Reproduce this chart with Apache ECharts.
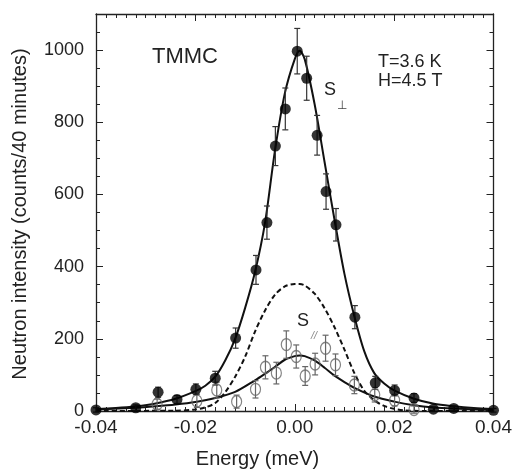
<!DOCTYPE html>
<html>
<head>
<meta charset="utf-8">
<script src="https://cdn.jsdelivr.net/npm/echarts@6/dist/echarts.min.js"></script>
<style>
  html, body { margin: 0; padding: 0; background: #fff; }
  #chart { width: 515px; height: 470px; }
</style>
</head>
<body>
<div id="chart"></div>
<script>
// S perp data (filled circles)
const perpX = [-0.04, -0.032, -0.0275, -0.0237, -0.0199, -0.016, -0.0119, -0.0078, -0.0056, -0.0039, -0.0019, 0.0005, 0.0024, 0.0045, 0.0063, 0.0083, 0.0121, 0.0162, 0.0201, 0.024, 0.0279, 0.032, 0.04];
const perpY = [3, 9, 52, 32, 60, 91, 202, 391, 522, 734, 837, 997, 922, 764, 608, 516, 260, 78, 57, 36, 5, 7, 2];
const perpErr = [6, 8, 14, 11, 15, 19, 28, 40, 46, 54, 58, 63, 61, 55, 49, 45, 32, 18, 15, 12, 6, 6, 5];

// S parallel data (open circles)
const parX = [-0.0277, -0.0197, -0.0157, -0.0117, -0.0079, -0.0059, -0.0037, -0.0017, 0.0003, 0.0021, 0.0041, 0.0062, 0.0082, 0.012, 0.0161, 0.0201, 0.024];
const parY = [19, 28, 58, 26, 60, 121, 105, 184, 151, 97, 130, 174, 128, 72, 45, 30, 4];
const parErr = [14, 18, 22, 18, 24, 32, 30, 38, 32, 26, 30, 36, 30, 24, 20, 16, 10];

// fitted curves
const perpFitX = [-0.04, -0.036, -0.032, -0.028, -0.024, -0.02, -0.018, -0.016, -0.014, -0.012, -0.01, -0.008, -0.006, -0.004, -0.002, 0, 0.001, 0.002, 0.004, 0.006, 0.008, 0.01, 0.012, 0.014, 0.016, 0.018, 0.02, 0.024, 0.028, 0.032, 0.036, 0.04];
const perpFitY = [5, 8, 13, 21, 34, 55, 70, 95, 140, 200, 285, 385, 520, 720, 880, 975, 998, 975, 850, 690, 530, 380, 262, 165, 105, 76, 57, 34, 20, 13, 8, 5];

const parFitX = [-0.04, -0.032, -0.028, -0.024, -0.02, -0.016, -0.012, -0.008, -0.006, -0.004, -0.002, 0, 0.001, 0.002, 0.004, 0.006, 0.008, 0.01, 0.012, 0.016, 0.02, 0.024, 0.028, 0.032, 0.04];
const parFitY = [4, 9, 13, 18, 25, 36, 53, 85, 103, 122, 142, 152, 154, 152, 140, 120, 98, 80, 64, 40, 26, 16, 10, 7, 3];

const dashFitX = [-0.04, -0.024, -0.02, -0.018, -0.016, -0.014, -0.012, -0.01, -0.008, -0.006, -0.004, -0.002, 0, 0.001, 0.002, 0.004, 0.006, 0.008, 0.01, 0.012, 0.014, 0.016, 0.018, 0.02, 0.022, 0.026, 0.04];
const dashFitY = [0, 1, 4, 10, 22, 52, 95, 150, 220, 278, 322, 345, 352, 352, 348, 325, 285, 232, 170, 105, 56, 30, 14, 6, 2, 0, 0];

const xTicks = [-0.04, -0.02, 0, 0.02, 0.04];
const yTicks = [0, 200, 400, 600, 800, 1000];

const font = 'Liberation Sans, Arial, Helvetica, sans-serif';

function pairs(xs, ys) {
  return xs.map((x, i) => [x, ys[i]]);
}
function errData(xs, ys, es) {
  return xs.map((x, i) => [x, ys[i] - es[i], ys[i] + es[i]]);
}
function errorBar(color) {
  return function (params, api) {
    const lo = api.coord([api.value(0), api.value(1)]);
    const hi = api.coord([api.value(0), api.value(2)]);
    const style = { stroke: color, lineWidth: 1.2 };
    return {
      type: 'group',
      children: [
        { type: 'line', shape: { x1: lo[0], y1: lo[1], x2: hi[0], y2: hi[1] }, style: style },
        { type: 'line', shape: { x1: lo[0] - 3, y1: lo[1], x2: lo[0] + 3, y2: lo[1] }, style: style },
        { type: 'line', shape: { x1: hi[0] - 3, y1: hi[1], x2: hi[0] + 3, y2: hi[1] }, style: style }
      ]
    };
  };
}

const chart = echarts.init(document.getElementById('chart'));

const xBase = {
  type: 'value',
  min: -0.04,
  max: 0.04,
  interval: 0.02,
  axisLine: { show: true, onZero: false, lineStyle: { color: '#222', width: 1.3 } },
  axisTick: { show: true, inside: true, length: 7, lineStyle: { color: '#222' } },
  minorTick: { show: true, splitNumber: 10, length: 4, lineStyle: { color: '#222' } },
  splitLine: { show: false }
};
const yBase = {
  type: 'value',
  min: 0,
  max: 1100,
  interval: 200,
  axisLine: { show: true, onZero: false, lineStyle: { color: '#222', width: 1.3 } },
  axisTick: { show: true, inside: true, length: 7, lineStyle: { color: '#222' } },
  minorTick: { show: true, splitNumber: 4, length: 4, lineStyle: { color: '#222' } },
  splitLine: { show: false }
};

chart.setOption({
  animation: false,
  backgroundColor: '#fff',
  grid: { left: 96, right: 18, top: 14, bottom: 59 },
  xAxis: [
    Object.assign({}, xBase, {
      position: 'bottom',
      axisLabel: {
        color: '#222', fontSize: 19, fontFamily: font, margin: 7,
        formatter: v => xTicks.some(t => Math.abs(t - v) < 1e-9) ? v.toFixed(2) : ''
      }
    }),
    Object.assign({}, xBase, { position: 'top', axisLabel: { show: false } })
  ],
  yAxis: [
    Object.assign({}, yBase, {
      position: 'left',
      axisLabel: {
        color: '#222', fontSize: 18, fontFamily: font, margin: 12, showMaxLabel: false,
        formatter: v => yTicks.indexOf(v) >= 0 ? String(v) : ''
      }
    }),
    Object.assign({}, yBase, { position: 'right', axisLabel: { show: false } })
  ],
  series: [
    {
      type: 'line', data: pairs(dashFitX, dashFitY), smooth: 0.3, symbol: 'none',
      lineStyle: { color: '#111', width: 2, type: [5, 3] }, z: 2
    },
    {
      type: 'line', data: pairs(parFitX, parFitY), smooth: 0.3, symbol: 'none',
      lineStyle: { color: '#111', width: 2 }, z: 2
    },
    {
      type: 'line', data: pairs(perpFitX, perpFitY), smooth: 0.3, symbol: 'none',
      lineStyle: { color: '#111', width: 2 }, z: 2
    },
    {
      type: 'custom', data: errData(parX, parY, parErr), renderItem: errorBar('#666'),
      encode: { x: 0, y: [1, 2] }, z: 3
    },
    {
      type: 'custom', data: errData(perpX, perpY, perpErr), renderItem: errorBar('#333'),
      encode: { x: 0, y: [1, 2] }, z: 3
    },
    {
      type: 'scatter', data: pairs(parX, parY), symbol: 'circle', symbolSize: [10, 12],
      itemStyle: { color: 'transparent', borderColor: '#666', borderWidth: 1.3 }, z: 4
    },
    {
      type: 'scatter', data: pairs(perpX, perpY), symbol: 'circle', symbolSize: 11,
      itemStyle: { color: '#000' }, z: 5
    }
  ],
  graphic: [
    { type: 'text', left: 152, top: 46, style: { text: 'TMMC', font: '22px ' + font, fill: '#222' } },
    { type: 'text', left: 378, top: 53, style: { text: 'T=3.6 K', font: '18px ' + font, fill: '#222' } },
    { type: 'text', left: 378, top: 72, style: { text: 'H=4.5 T', font: '18px ' + font, fill: '#222' } },
    { type: 'text', left: 324, top: 81, style: { text: 'S', font: '18px ' + font, fill: '#222' } },
    { type: 'text', left: 337, top: 100, style: { text: '\u22a5', font: '12px ' + font, fill: '#444' } },
    { type: 'text', left: 297, top: 312, style: { text: 'S', font: '18px ' + font, fill: '#222' } },
    { type: 'text', left: 311, top: 330, style: { text: '//', font: 'italic 11px ' + font, fill: '#888' } },
    { type: 'text', left: 'center', top: 449, style: { text: 'Energy (meV)', font: '20px ' + font, fill: '#222' } },
    {
      type: 'text', x: 20, y: 214, rotation: Math.PI / 2,
      style: { text: 'Neutron intensity (counts/40 minutes)', font: '20px ' + font, fill: '#222', align: 'center', verticalAlign: 'middle' }
    }
  ]
});
</script>
</body>
</html>
